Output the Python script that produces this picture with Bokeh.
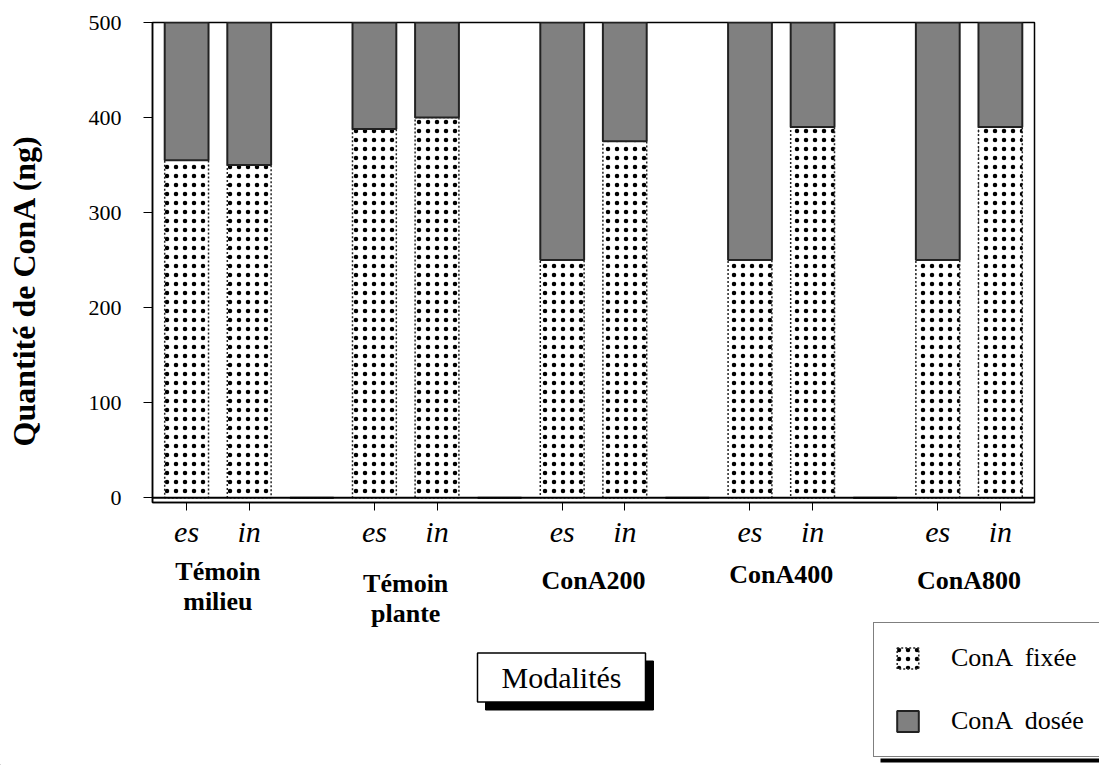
from bokeh.plotting import figure
from bokeh.models import (Range1d, FixedTicker, Label, Legend, LegendItem, Span,
                          BoxAnnotation, ColumnDataSource)
from bokeh.core.properties import value
from bokeh.embed import file_html
from bokeh.resources import INLINE

# ---- data ----
slot_labels = ["es", "in", "", "es", "in", "", "es", "in", "", "es", "in", "", "es", "in"]
fixee = [355, 350, 0, 388, 400, 0, 250, 375, 0, 250, 390, 0, 250, 390]
dosee = [145, 150, 0, 112, 100, 0, 250, 125, 0, 250, 110, 0, 250, 110]
groups = ["Témoin\nmilieu", "Témoin\nplante", "ConA200", "ConA400", "ConA800"]
group_slots = [(0, 1), (3, 4), (6, 7), (9, 10), (12, 13)]
y_ticks = [0, 100, 200, 300, 400, 500]
series_names = ["ConA  fixée", "ConA  dosée"]
y_title = "Quantité de ConA (ng)"

SERIF = "Liberation Serif"
ITALIC_SERIF = "Times New Roman"

W = 1099
H1, H2 = 552, 213
LEFT, RIGHT, TOP, BOTTOM = 152, 65, 22, 50

xpos = [i + 0.5 for i in range(len(slot_labels))]
dos_top = [a + b for a, b in zip(fixee, dosee)]
src = ColumnDataSource(dict(x=xpos, fix_top=fixee, dos_bottom=fixee, dos_top=dos_top))

FIX_STYLE = dict(fill_color="white", hatch_pattern="dot", hatch_color="black",
                 hatch_scale=9, hatch_weight=1,
                 line_color="#222222", line_width=1.5, line_dash="2 2")
DOS_STYLE = dict(fill_color="#808080", line_color="#222222", line_width=2)

x0, x1 = -0.045, len(slot_labels) + 0.045
p = figure(width=W, height=H1, x_range=Range1d(x0, x1), y_range=Range1d(-5, 500),
           output_backend="svg", toolbar_location=None,
           min_border_left=LEFT, min_border_right=RIGHT, min_border_top=TOP, min_border_bottom=BOTTOM)
p.grid.visible = False
p.outline_line_color = "black"
p.outline_line_width = 1.5
p.background_fill_color = "white"
p.border_fill_color = "white"

p.add_layout(Span(location=0, dimension="width", line_color="black", line_width=2))

r_fix = p.vbar(x="x", width=0.7, bottom=0, top="fix_top", source=src, **FIX_STYLE)
r_dos = p.vbar(x="x", width=0.7, bottom="dos_bottom", top="dos_top", source=src, **DOS_STYLE)

# y axis
p.yaxis.ticker = FixedTicker(ticks=y_ticks)
p.yaxis.minor_tick_line_color = None
p.yaxis.major_tick_in = 0
p.yaxis.major_tick_out = 9
p.yaxis.major_label_standoff = 22
p.yaxis.major_label_text_font = SERIF
p.yaxis.major_label_text_font_size = "22px"
p.yaxis.major_label_text_color = "black"
p.yaxis.axis_line_width = 1.5
p.yaxis.axis_line_color = "black"
p.yaxis.major_tick_line_color = "black"
# trailing no-break spaces push the printed title a little lower, as in the original
p.yaxis.axis_label = y_title + "\u00a0" * 7
p.yaxis.axis_label_standoff = 44
p.yaxis.axis_label_text_font = SERIF
p.yaxis.axis_label_text_font_style = "bold"
p.yaxis.axis_label_text_font_size = "32px"
p.yaxis.axis_label_text_color = "black"

# x axis
tick_pos = [xpos[i] for i, s in enumerate(slot_labels) if s]
p.xaxis.ticker = FixedTicker(ticks=tick_pos)
p.xaxis.major_label_overrides = {xpos[i]: s for i, s in enumerate(slot_labels) if s}
p.xaxis.minor_tick_line_color = None
p.xaxis.major_tick_in = 0
p.xaxis.major_tick_out = 8
p.xaxis.major_label_standoff = 4
p.xaxis.major_label_text_font = ITALIC_SERIF
p.xaxis.major_label_text_font_style = "italic"
p.xaxis.major_label_text_font_size = "30px"
p.xaxis.major_label_text_color = "black"
p.xaxis.axis_line_width = 1.5
p.xaxis.axis_line_color = "black"
p.xaxis.major_tick_line_color = "black"

# ---- lower panel: group names, "Modalités" box, legend ----
scale = (W - LEFT - RIGHT) / (x1 - x0)
qx0, qx1 = x0 - LEFT / scale, x1 + RIGHT / scale
q = figure(width=W, height=H2, x_range=Range1d(qx0, qx1), y_range=Range1d(0, H2),
           output_backend="svg", toolbar_location=None,
           x_axis_location=None, y_axis_location=None,
           min_border=0, min_border_left=0, min_border_right=0,
           min_border_top=0, min_border_bottom=0)
q.grid.visible = False
q.outline_line_color = None
q.background_fill_color = "white"
q.border_fill_color = "white"

gx = [(xpos[a] + xpos[b]) / 2 for a, b in group_slots]
gy = [179, 167, 185, 191, 185]
gsrc = ColumnDataSource(dict(x=gx, y=gy, t=groups))
q.text(x="x", y="y", text="t", source=gsrc, text_align="center", text_baseline="middle",
       text_font=value(SERIF), text_font_style="bold", text_font_size="26px",
       text_line_height=1.05, text_color="black")

# Modalités box with drop shadow
q.add_layout(Label(x=569, y=80, x_units="screen", y_units="screen", text="Modalités",
                   text_align="center", text_baseline="middle",
                   text_font=SERIF, text_font_size="30px", text_color="black",
                   background_fill_color="black", border_line_color="black",
                   padding=(24, 8)))
q.add_layout(Label(x=561, y=88, x_units="screen", y_units="screen", text="Modalités",
                   text_align="center", text_baseline="middle",
                   text_font=SERIF, text_font_size="30px", text_color="black",
                   background_fill_color="white", border_line_color="black",
                   border_line_width=1.5, padding=(24, 8)))

# legend swatches: one-off proxies, placed outside the visible x range
l_fix = q.vbar(x=[qx0 - 10], width=0.7, top=[0], **FIX_STYLE)
l_dos = q.vbar(x=[qx0 - 10], width=0.7, top=[0], **DOS_STYLE)

q.add_layout(BoxAnnotation(left=880, right=W, top=7, bottom=3,
                           left_units="screen", right_units="screen",
                           top_units="screen", bottom_units="screen",
                           fill_color="black", fill_alpha=1, line_color=None))

legend = Legend(items=[LegendItem(label=series_names[0], renderers=[l_fix]),
                       LegendItem(label=series_names[1], renderers=[l_dos])],
                location=(873, 8), orientation="vertical",
                glyph_width=27, glyph_height=26, label_standoff=30, spacing=33,
                padding=20, margin=0, label_height=26, label_width=170,
                label_text_font=SERIF, label_text_font_size="26px",
                label_text_color="black", label_text_baseline="middle",
                border_line_color="black", border_line_width=1.5,
                background_fill_color="white", background_fill_alpha=1)
q.add_layout(legend, "center")

open("out.html", "w").write(file_html([p, q], INLINE))
